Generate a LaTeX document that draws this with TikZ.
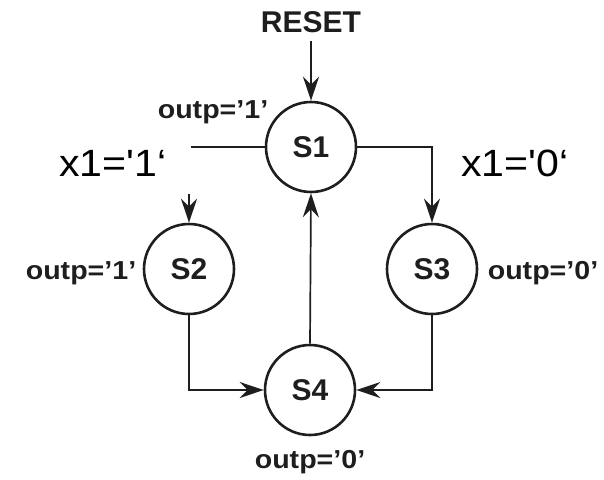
\documentclass[tikz,border=0pt]{standalone}
\usepackage{fontspec}
\usepackage{graphicx}
\setmainfont{Liberation Sans}
\usetikzlibrary{arrows.meta}
\definecolor{ink}{HTML}{1E1E1E}
\tikzset{
  state/.style={circle, draw=ink, text=ink, line width=2.6pt, minimum size=90pt, inner sep=0pt,
    font=\bfseries\fontsize{30}{32}\selectfont},
  conn/.style={draw=ink, line width=1.7pt},
  arr/.style={conn, -{Stealth[length=24pt,width=16pt,inset=8pt]}},
  outlbl/.style={anchor=base, inner sep=0pt, text=ink, font=\bfseries\fontsize{26}{28}\selectfont},
  condlbl/.style={anchor=base, inner sep=0pt, text=black, font=\fontsize{38}{40}\selectfont},
}
\newcommand{\sq}{\textquotesingle}
\begin{document}
\begin{tikzpicture}[x=1pt,y=-1pt]
\useasboundingbox (0,0) rectangle (604,479);
\node[state] (S1) at (311,147) {S1};
\node[state] (S2) at (189,269) {S2};
\node[state] (S3) at (432,269) {S3};
\node[state] (S4) at (310,390) {S4};

\node[anchor=base, inner sep=0pt, text=ink, font=\bfseries\fontsize{30}{32}\selectfont] (reset) at (311,32) {RESET};
\coordinate (rtop) at (311,41);
\draw[arr] (rtop) -- (S1.north);

\node[outlbl] (o1) at (213,118) {\scalebox{1.1}[1]{outp='1'}};
\node[outlbl] (o2) at (81,279) {\scalebox{1.1}[1]{outp='1'}};
\node[outlbl] (o3) at (543,279) {\scalebox{1.1}[1]{outp='0'}};
\node[outlbl] (o4) at (310,468) {\scalebox{1.1}[1]{outp='0'}};

\node[condlbl] (c1) at (113,176) {\scalebox{1.08}[1]{x1=\sq1‘}};
\node[condlbl] (c0) at (515,176) {\scalebox{1.08}[1]{x1=\sq0‘}};

% left branch (vertical hidden)
\coordinate (lend) at (191,147);
\draw[conn] (S1.west) -- (lend);
\coordinate (ltop) at (189,194);
\draw[arr] (ltop) -- (S2.north);

% right branch
\coordinate (rcorner) at (S3.north |- S1.east);
\draw[arr] (S1.east) -- (rcorner) -- (S3.north);

% bottom
\coordinate (bl) at (S2.south |- S4.west);
\coordinate (br) at (S3.south |- S4.east);
\draw[arr] (S2.south) -- (bl) -- (S4.west);
\draw[arr] (S3.south) -- (br) -- (S4.east);

% S4 to S1
\draw[arr] (S4.north) -- (S1.south);
\end{tikzpicture}
\end{document}
